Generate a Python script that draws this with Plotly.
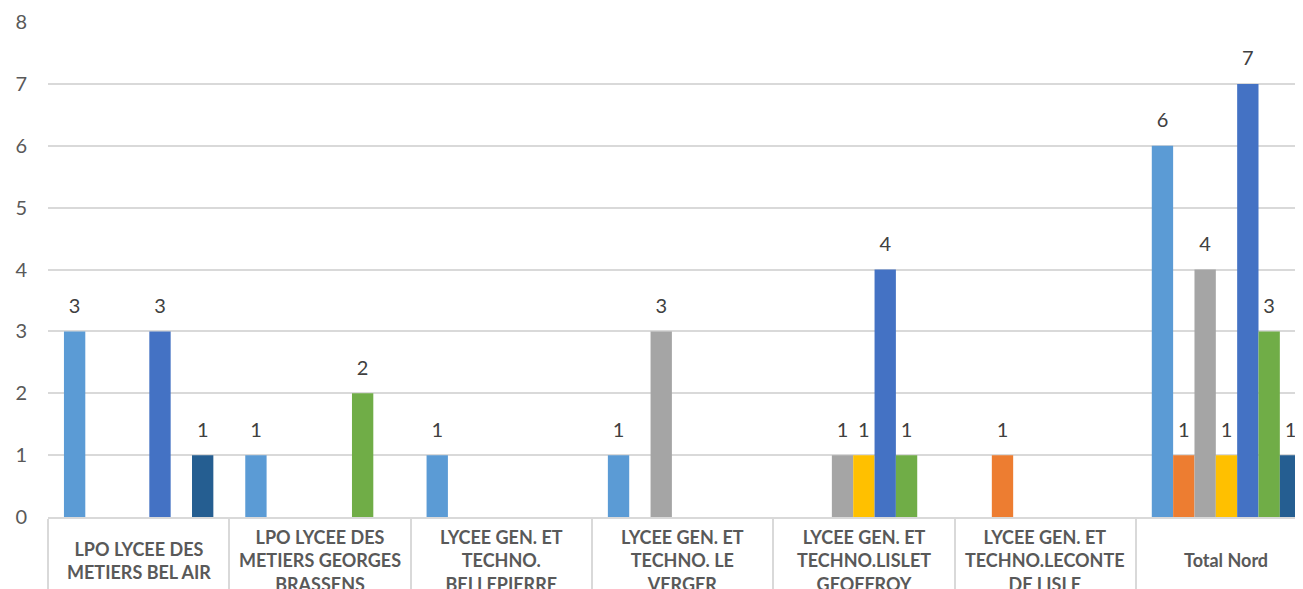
import plotly.graph_objects as go

categories = [
    "LPO LYCEE DES METIERS BEL AIR",
    "LPO LYCEE DES METIERS GEORGES BRASSENS",
    "LYCEE GEN. ET TECHNO. BELLEPIERRE",
    "LYCEE GEN. ET TECHNO. LE VERGER",
    "LYCEE GEN. ET TECHNO.LISLET GEOFFROY",
    "LYCEE GEN. ET TECHNO.LECONTE DE LISLE",
    "Total Nord",
]
category_labels = [
    "LPO LYCEE DES<br>METIERS BEL AIR",
    "LPO LYCEE DES<br>METIERS GEORGES<br>BRASSENS",
    "LYCEE GEN. ET<br>TECHNO.<br>BELLEPIERRE",
    "LYCEE GEN. ET<br>TECHNO. LE<br>VERGER",
    "LYCEE GEN. ET<br>TECHNO.LISLET<br>GEOFFROY",
    "LYCEE GEN. ET<br>TECHNO.LECONTE<br>DE LISLE",
    "Total Nord",
]

series_names = ["Série 1", "Série 2", "Série 3", "Série 4", "Série 5", "Série 6", "Série 7"]
s1 = [3, 1, 1, 1, None, None, 6]
s2 = [None, None, None, None, None, 1, 1]
s3 = [None, None, None, 3, 1, None, 4]
s4 = [None, None, None, None, 1, None, 1]
s5 = [3, None, None, None, 4, None, 7]
s6 = [None, 2, None, None, 1, None, 3]
s7 = [1, None, None, None, None, None, 1]
series_values = [s1, s2, s3, s4, s5, s6, s7]

colors = ["#5B9BD5", "#ED7D31", "#A5A5A5", "#FFC000", "#4472C4", "#70AD47", "#255E91"]

y_ticks = [0, 1, 2, 3, 4, 5, 6, 7, 8]

GAP = 0.176

fig = go.Figure()
for name, vals, col in zip(series_names, series_values, colors):
    fig.add_trace(go.Bar(
        x=categories, y=vals, name=name,
        marker=dict(color=col, line=dict(width=0)),
        hoverinfo="skip",
    ))

for name, vals, col in zip(series_names, series_values, colors):
    fig.add_trace(go.Scatter(
        x=categories, y=vals, name=name + " labels",
        mode="markers+text",
        text=["" if v is None else str(v) for v in vals],
        textposition="top center",
        textfont=dict(family="Lato", size=20, color="#404040"),
        marker=dict(size=20, color="rgba(0,0,0,0)"),
        cliponaxis=False,
        showlegend=False,
        hoverinfo="skip",
    ))

for cat, lab in zip(categories, category_labels):
    fig.add_annotation(
        x=cat, xref="x", y=0, yref="paper", yshift=-43,
        yanchor="middle", xanchor="center", align="center",
        text=lab, showarrow=False,
        font=dict(family="Lato", size=18, color="#595959", weight=700),
    )

fig.update_layout(
    width=1295, height=581,
    margin=dict(l=40, r=0, t=14, b=72, autoexpand=False),
    paper_bgcolor="white", plot_bgcolor="white",
    barmode="group", bargap=GAP, bargroupgap=0,
    scattermode="group", scattergap=GAP,
    showlegend=False,
    font=dict(family="Lato", color="#595959"),
)
fig.update_xaxes(
    type="category",
    range=[-0.5, 6.422],
    automargin=False,
    showticklabels=False,
    showline=True, linecolor="#D9D9D9", linewidth=1.5,
    ticks="outside", tickson="boundaries", ticklen=72,
    tickcolor="#D9D9D9", tickwidth=1.5,
    showgrid=False, zeroline=False,
)
fig.update_yaxes(
    range=[0, 8], tickvals=y_ticks,
    automargin=False,
    showgrid=True, gridcolor="#D9D9D9", gridwidth=1.5,
    zeroline=False, showline=False, ticks="",
    tickfont=dict(family="Lato", size=20, color="#595959"),
    ticklabelstandoff=20,
)

fig.write_html("out.html")
